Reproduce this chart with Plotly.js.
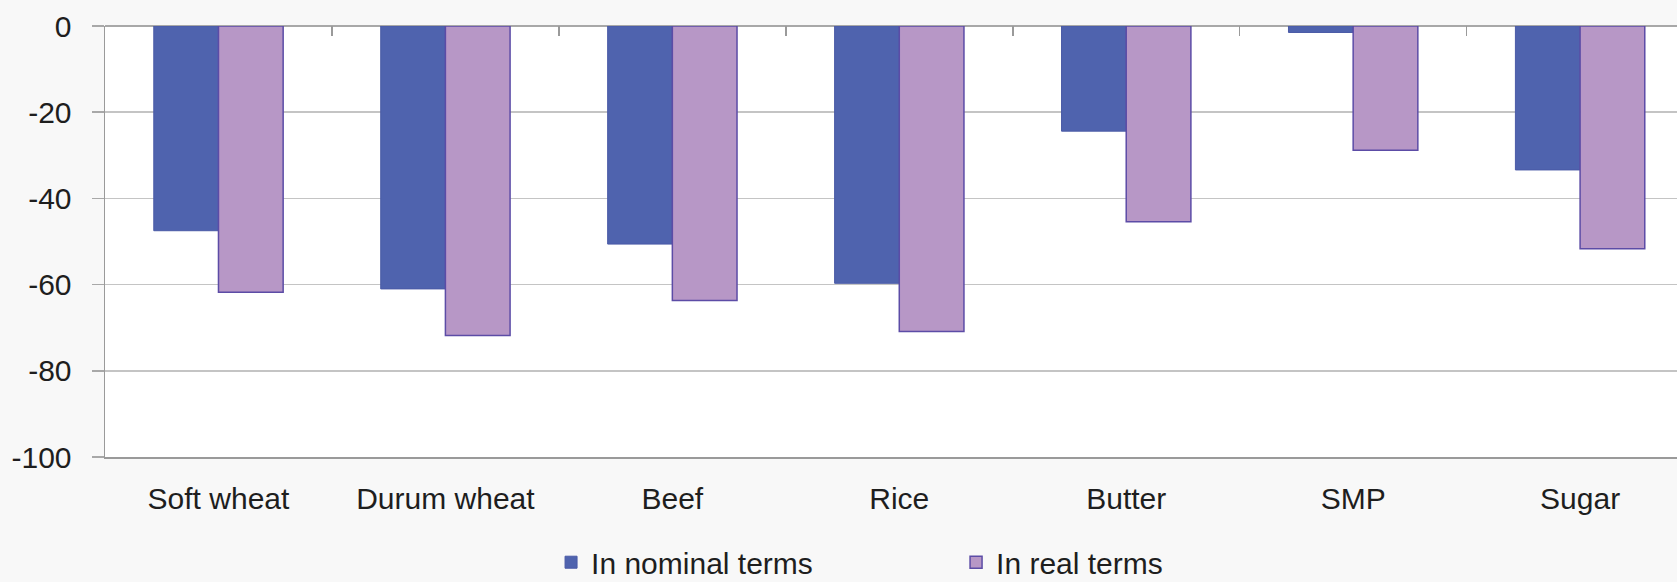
<!DOCTYPE html>
<html>
<head>
<meta charset="utf-8">
<script src="https://cdn.plot.ly/plotly-3.0.1.min.js"></script>
<style>html,body{margin:0;padding:0;background:#f8f8f8;}#chart{width:1677px;height:582px;}</style>
</head>
<body>
<div id="chart"></div>
<script>
const categories = ['Soft wheat', 'Durum wheat', 'Beef', 'Rice', 'Butter', 'SMP', 'Sugar'];
const nominalTerms = [-47.5, -61, -50.6, -59.7, -24.4, -1.5, -33.4];
const realTerms = [-61.8, -71.8, -63.7, -70.9, -45.4, -28.8, -51.7];
const seriesNames = ['In nominal terms', 'In real terms'];
const yTickValues = [0, -20, -40, -60, -80, -100];
const yTickLabels = ['0', '-20', '-40', '-60', '-80', '-100'];

const font = {family: 'Liberation Sans, Arial, sans-serif', size: 30, color: '#1e1e1e'};

const traces = [
  {type: 'bar', name: seriesNames[0], x: categories, y: nominalTerms,
   marker: {color: '#4f63ae', line: {color: '#4a5aa6', width: 1}}, hoverinfo: 'x+y'},
  {type: 'bar', name: seriesNames[1], x: categories, y: realTerms,
   marker: {color: '#b797c6', line: {color: '#5c4ca6', width: 1.5}}, hoverinfo: 'x+y'},
  {type: 'scatter', mode: 'none', x: categories, y: categories.map(() => null),
   xaxis: 'x2', yaxis: 'y', showlegend: false, hoverinfo: 'skip'}
];

const layout = {
  width: 1677, height: 582,
  margin: {l: 105, r: 0, t: 26, b: 125, pad: 0, autoexpand: false},
  paper_bgcolor: '#f8f8f8', plot_bgcolor: '#ffffff',
  font: font,
  barmode: 'group', bargap: 0.43, bargroupgap: 0,
  showlegend: true,
  legend: {orientation: 'h', xref: 'container', yref: 'container',
           x: 0.3286, xanchor: 'left', y: 0.034, yanchor: 'middle',
           font: font, bgcolor: 'rgba(0,0,0,0)', entrywidth: 360, entrywidthmode: 'pixels',
           traceorder: 'normal'},
  xaxis: {type: 'category', range: [-0.5, 6.427], showgrid: false, zeroline: false,
          showline: true, linecolor: '#9a9a9a', linewidth: 1.5, ticks: '',
          ticklabelstandoff: 14, tickfont: font, fixedrange: true},
  xaxis2: {type: 'category', overlaying: 'x', matches: 'x', side: 'top', anchor: 'y',
           ticks: 'inside', tickson: 'boundaries', ticklen: 10, tickwidth: 1.5, tickcolor: '#9a9a9a',
           showticklabels: false, showgrid: false, zeroline: false, showline: false},
  yaxis: {range: [-100, 0], tickmode: 'array', tickvals: yTickValues, ticktext: yTickLabels,
          showgrid: true, gridcolor: '#c4c4c4', gridwidth: 1.5,
          zeroline: true, zerolinecolor: '#a8a8a8', zerolinewidth: 1.5,
          showline: true, linecolor: '#9a9a9a', linewidth: 1.5,
          ticks: 'outside', ticklen: 12, tickwidth: 1.5, tickcolor: '#a8a8a8',
          ticklabelstandoff: 14, tickfont: font, fixedrange: true}
};

Plotly.newPlot('chart', traces, layout, {displayModeBar: false, staticPlot: true});
</script>
</body>
</html>
